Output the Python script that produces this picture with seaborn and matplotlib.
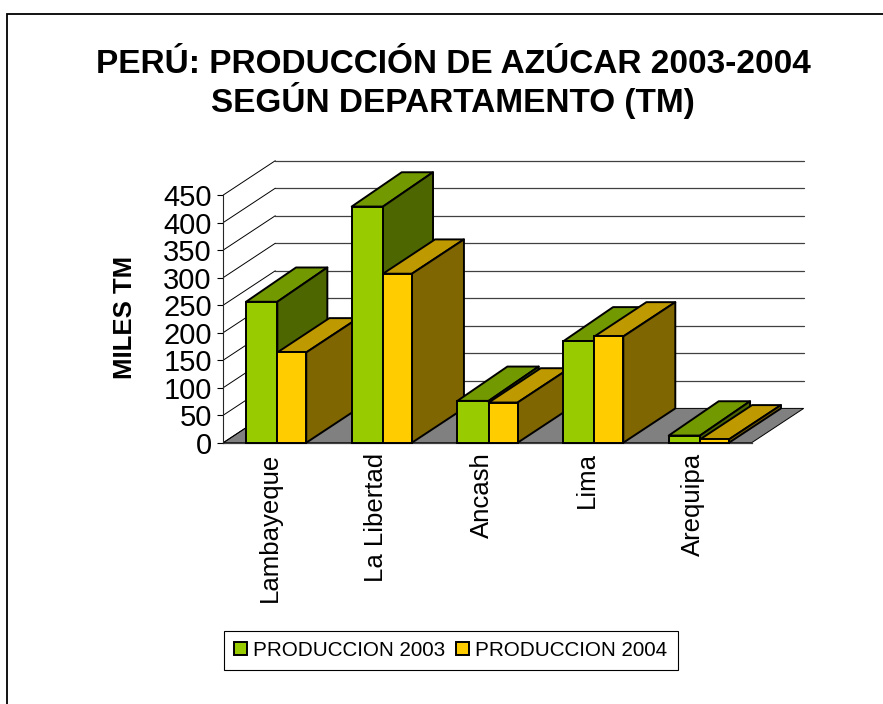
import numpy as np
import pandas as pd
import seaborn as sns
import matplotlib.pyplot as plt
from matplotlib.patches import Polygon, Rectangle
from matplotlib.transforms import ScaledTranslation

departamentos = ["Lambayeque", "La Libertad", "Ancash", "Lima", "Arequipa"]
produccion_2003 = [256, 429, 76, 184, 13]
produccion_2004 = [164, 307, 73, 193, 6]
series_names = ["PRODUCCION 2003", "PRODUCCION 2004"]
y_ticks = [0, 50, 100, 150, 200, 250, 300, 350, 400, 450]

W, H = 883, 704
FRONT = ["#99CC00", "#FFCC00"]
TOP = ["#739900", "#BF9900"]
SIDE = ["#4D6600", "#806600"]
FLOOR = "#808080"

sns.set_style("white")
plt.rcParams["font.family"] = ["Liberation Sans", "DejaVu Sans"]
plt.rcParams["text.color"] = "black"
plt.rcParams["axes.labelcolor"] = "black"
plt.rcParams["xtick.color"] = "black"
plt.rcParams["ytick.color"] = "black"

df = pd.DataFrame(
    {
        "departamento": departamentos * 2,
        "serie": [series_names[0]] * 5 + [series_names[1]] * 5,
        "miles": produccion_2003 + produccion_2004,
    }
)

fig = plt.figure(figsize=(W / 100, H / 100), dpi=100)
# axes is the front plane of the 3d box, everything else hangs off it
ax = fig.add_axes([223.3 / W, 1 - 442.7 / H, 528.4 / W, 247.7 / H])
ax.patch.set_alpha(0)
sns.barplot(
    data=df, x="departamento", y="miles", hue="serie", hue_order=series_names,
    palette=FRONT, width=0.57, gap=0, saturation=1, edgecolor="black",
    linewidth=1.4, ax=ax,
)
ax.set_xlim(-0.5, 4.5)
ax.set_ylim(0, 450)

px_x = 5 / 528.4
px_y = 450 / 247.7
depth_x = 52 * px_x
depth_y = 34.3 * px_y

# floor, back wall grid and left wall
x0, x1 = ax.get_xlim()
ax.add_patch(Polygon(
    [(x0, 0), (x0 + depth_x, depth_y), (x1 + depth_x, depth_y), (x1, 0)],
    closed=True, fc=FLOOR, ec="black", lw=0.7, clip_on=False, zorder=1,
))
for t in y_ticks:
    if t > 0:
        ax.plot([x0 + depth_x, x1 + depth_x], [t + depth_y, t + depth_y],
                color="#404040", lw=0.9, clip_on=False, zorder=1)
    ax.plot([x0, x0 + depth_x], [t, t + depth_y], color="black", lw=0.7,
            clip_on=False, zorder=1)

# extrude each bar backwards, later categories sit in front of earlier ones
bar_depths = [50 * px_x, 52 * px_x]
# the green bars come out a little wider than the yellow ones in the original
width_shift = [1.2 * px_x, -1.2 * px_x]
for s, container in enumerate(ax.containers):
    dx = bar_depths[s]
    dy = depth_y
    for i, bar in enumerate(container):
        bar.set_width(bar.get_width() + width_shift[s])
        if s == 1:
            bar.set_x(bar.get_x() + 1.2 * px_x)
        z = 3 + i * 2 + s
        left = bar.get_x()
        right = left + bar.get_width()
        top = bar.get_height()
        ax.add_patch(Polygon(
            [(left, top), (left + dx, top + dy), (right + dx, top + dy), (right, top)],
            closed=True, fc=TOP[s], ec="black", lw=1.4, clip_on=False, zorder=z,
            joinstyle="round",
        ))
        ax.add_patch(Polygon(
            [(right, 0), (right + dx, dy), (right + dx, top + dy), (right, top)],
            closed=True, fc=SIDE[s], ec="black", lw=1.4, clip_on=False, zorder=z,
            joinstyle="round",
        ))
        bar.set_zorder(z + 0.5)
        bar.set_clip_on(False)

sns.despine(ax=ax, top=True, right=True)
ax.spines["left"].set_linewidth(0.8)
ax.spines["bottom"].set_color("#404040")
ax.spines["bottom"].set_linewidth(0.9)
ax.spines["bottom"].set_zorder(2)

ax.set_yticks(y_ticks)
ax.tick_params(axis="y", left=True, length=4.3, width=0.8, labelsize=21, pad=4)
ax.tick_params(axis="x", bottom=False, labelsize=18.5, pad=3.5)
shift = ScaledTranslation(-6 / 100, 0, fig.dpi_scale_trans)
for lab in ax.get_xticklabels():
    lab.set_rotation(90)
    lab.set_transform(lab.get_transform() + shift)
ax.set_xlabel("")
ax.set_ylabel("")

fig.text(125 / W, 1 - 317 / H, "MILES TM", rotation=90, ha="center", va="center",
         fontsize=18.5, fontweight="bold")
fig.text(453 / W, 1 - 73 / H, "PERÚ: PRODUCCIÓN DE AZÚCAR 2003-2004", ha="center",
         va="baseline", fontsize=24, fontweight="bold")
fig.text(453 / W, 1 - 112 / H, "SEGÚN DEPARTAMENTO (TM)", ha="center", va="baseline",
         fontsize=24, fontweight="bold")

handles, labels = ax.get_legend_handles_labels()
ax.get_legend().remove()
leg = fig.legend(
    handles, labels, ncol=2, loc="center", bbox_to_anchor=(450.6 / W, 1 - 650.5 / H),
    fontsize=14.9, frameon=True, fancybox=False, edgecolor="black", framealpha=1,
    handlelength=0.64, handleheight=0.6, handletextpad=0.3, columnspacing=0.5,
    borderpad=0.5, borderaxespad=0,
)
leg.get_frame().set_linewidth(0.8)

# frame runs off the right and bottom edge of the image
fig.add_artist(Rectangle((7.5 / W, -20 / H), 900 / W, (20 + 704 - 14) / H, fill=False,
                         ec="black", lw=1.3, transform=fig.transFigure))
fig.savefig("out.png", dpi=100)
